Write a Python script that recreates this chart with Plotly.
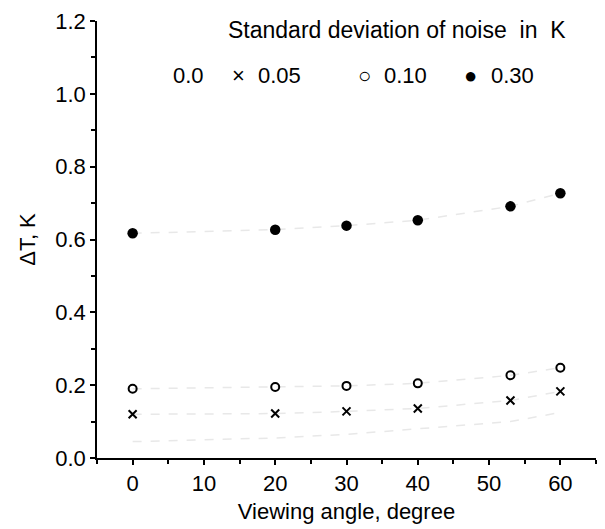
import plotly.graph_objects as go

angles = [0, 20, 30, 40, 53, 60]
noise_000 = [0.045, 0.055, 0.065, 0.08, 0.10, 0.125]
noise_005 = [0.120, 0.122, 0.128, 0.136, 0.158, 0.183]
noise_010 = [0.190, 0.195, 0.198, 0.205, 0.227, 0.248]
noise_030 = [0.617, 0.627, 0.638, 0.653, 0.691, 0.727]

legend_title = "Standard deviation of noise  in  K"
legend_labels = ["0.0", "0.05", "0.10", "0.30"]
x_title = "Viewing angle, degree"
y_title = "ΔT, K"

FONT = "Liberation Sans, Arial, sans-serif"
FS = 22
faint = "#e8e8e8"

fig = go.Figure()
for vals in [noise_000, noise_005, noise_010, noise_030]:
    fig.add_trace(go.Scatter(x=angles, y=vals, mode="lines",
                             line=dict(color=faint, width=1.5, dash="dash"),
                             showlegend=False, hoverinfo="skip"))
fig.add_trace(go.Scatter(x=angles, y=noise_005, mode="markers", name=legend_labels[1],
                         marker=dict(symbol="x-thin", size=8, line=dict(color="black", width=2)),
                         showlegend=False))
fig.add_trace(go.Scatter(x=angles, y=noise_010, mode="markers", name=legend_labels[2],
                         marker=dict(symbol="circle-open", size=8, color="black", line=dict(color="black", width=2)),
                         showlegend=False))
fig.add_trace(go.Scatter(x=angles, y=noise_030, mode="markers", name=legend_labels[3],
                         marker=dict(symbol="circle", size=10.5, color="black"),
                         showlegend=False))

W, H = 605, 529
L, R, T, B = 97, 9, 14, 529 - 462
pw, ph = W - L - R, H - T - B

def px(x):
    return (x - L) / pw

def py(y):
    return (H - B - y) / ph

ann = []
ann.append(dict(text=legend_title, x=px(397), y=py(23), size=23))
legend_items = [(legend_labels[0], 188), ("×", 238), (legend_labels[1], 279),
                ("○", 364), (legend_labels[2], 405), ("●", 470), (legend_labels[3], 512)]
for t, xp in legend_items:
    ann.append(dict(text=t, x=px(xp), y=py(70), size=FS))
for a in ann:
    s = a.pop("size")
    a.update(xref="paper", yref="paper", showarrow=False, xanchor="center", yanchor="middle",
             font=dict(family=FONT, size=s, color="black"))
fig.update_layout(annotations=ann)

axis_common = dict(showline=True, linecolor="black", linewidth=1.5, ticks="outside",
                   ticklen=5, tickwidth=1.5, tickcolor="black", showgrid=False, zeroline=False,
                   tickfont=dict(family=FONT, size=FS, color="black"),
                   mirror=False, ticklabeloverflow="allow")
fig.update_xaxes(range=[-5, 65], tickmode="array", tickvals=[0, 10, 20, 30, 40, 50, 60],
                 minor=dict(ticks="outside", ticklen=4, tickwidth=1.5, tickcolor="black", dtick=5, tick0=0),
                 title=dict(text=x_title, font=dict(family=FONT, size=FS, color="black"), standoff=8),
                 **axis_common)
fig.update_yaxes(range=[0, 1.2], tickmode="array", tickvals=[0, 0.2, 0.4, 0.6, 0.8, 1.0, 1.2],
                 tickformat=".1f",
                 minor=dict(ticks="outside", ticklen=4, tickwidth=1.5, tickcolor="black", dtick=0.1, tick0=0),
                 title=dict(text=y_title, font=dict(family=FONT, size=FS, color="black"), standoff=14),
                 **axis_common)
fig.update_layout(width=W, height=H, margin=dict(l=L, r=R, t=T, b=B),
                  plot_bgcolor="white", paper_bgcolor="white", showlegend=False)
fig.write_html("out.html", config={"displayModeBar": False},
               post_script="document.body.style.margin='0px';")
